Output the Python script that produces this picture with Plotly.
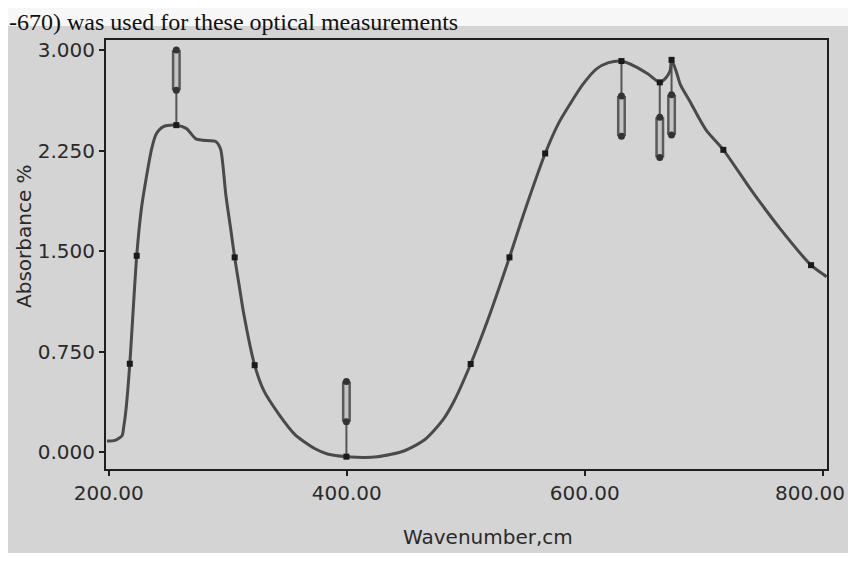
import plotly.graph_objects as go

# ---- data ----
wavenumber = [198.5, 205.3, 211.3, 212.4, 214.6, 217.7, 223.5, 227.4, 231.8, 236.0,
              239.7, 245.9, 256.8, 265.1, 273.2, 279.1, 289.9, 293.9, 295.9, 298.4,
              302.4, 305.8, 309.9, 313.3, 322.6, 330.3, 343.0, 356.7, 373.0, 383.8,
              399.7, 425.7, 448.5, 465.7, 480.6, 490.4, 504.1, 518.0, 536.7, 549.0,
              566.7, 577.7, 587.5, 598.2, 609.6, 619.9, 630.8, 642.5, 653.2, 663.0,
              668.2, 671.7, 672.9, 676.7, 680.5, 688.5, 696.4, 702.6, 716.4, 740.3,
              764.4, 790.1, 803.2]
absorbance = [0.084, 0.089, 0.125, 0.176, 0.325, 0.660, 1.465, 1.814, 2.059, 2.260,
              2.370, 2.428, 2.439, 2.415, 2.337, 2.327, 2.317, 2.263, 2.143, 1.918,
              1.670, 1.453, 1.227, 1.040, 0.649, 0.459, 0.283, 0.130, 0.028, -0.013,
              -0.033, -0.034, 0.011, 0.095, 0.239, 0.386, 0.658, 0.975, 1.453, 1.786,
              2.228, 2.449, 2.595, 2.741, 2.857, 2.905, 2.917, 2.876, 2.820, 2.758,
              2.793, 2.844, 2.926, 2.843, 2.737, 2.614, 2.485, 2.394, 2.255, 1.949,
              1.664, 1.395, 1.309]

# small dots drawn on the trace
mark_x = [217.7, 223.5, 256.8, 305.8, 322.6, 399.7, 504.1, 536.7, 566.7,
          630.8, 663.0, 672.9, 716.4, 790.1]
mark_y = [0.660, 1.465, 2.439, 1.453, 0.649, -0.033, 0.658, 1.453, 2.228,
          2.917, 2.758, 2.926, 2.255, 1.395]

# peak / valley picks
pick_x = [256.8, 399.7, 630.8, 663.0, 672.9]
pick_y = [2.439, -0.033, 2.917, 2.758, 2.926]
pick_side = [1, 1, -1, -1, -1]   # label above (+1) or below (-1) the trace

x_ticks = [200, 400, 600, 800]
y_ticks = [0.0, 0.75, 1.5, 2.25, 3.0]

x_title = "Wavenumber,cm"
y_title = "Absorbance %"
page_text = "-670) was used for these optical measurements"

# ---- figure ----
CURVE = "#4a4a4a"
FONT = "DejaVu Sans"
BG = "#d4d4d4"
TXT = "#2a2a2a"

fig = go.Figure()

# pick labels (drawn first so the curve is on top)
for px, py, s in zip(pick_x, pick_y, pick_side):
    stem_end = py + s * 0.25
    g0 = py + s * 0.26
    g1 = py + s * 0.56
    fig.add_trace(go.Scatter(x=[px, px], y=[py, stem_end], mode="lines",
                             line=dict(color="#555555", width=2),
                             hoverinfo="skip", showlegend=False))
    fig.add_trace(go.Scatter(x=[px, px], y=[g0, g1], mode="lines",
                             line=dict(color="#5a5a5a", width=9),
                             hoverinfo="skip", showlegend=False))
    fig.add_trace(go.Scatter(x=[px, px], y=[g0, g1], mode="lines",
                             line=dict(color="#c4c4c4", width=4),
                             hoverinfo="skip", showlegend=False))
    fig.add_trace(go.Scatter(x=[px, px], y=[g0, g1], mode="markers",
                             marker=dict(color="#333333", size=7, symbol="circle"),
                             hoverinfo="skip", showlegend=False))

fig.add_trace(go.Scatter(x=wavenumber, y=absorbance, mode="lines",
                         line=dict(color=CURVE, width=3, shape="spline", smoothing=0.7),
                         showlegend=False))
fig.add_trace(go.Scatter(x=mark_x, y=mark_y, mode="markers",
                         marker=dict(color="#1a1a1a", size=6, symbol="square"),
                         showlegend=False))

# the page body adds an 8px margin on every side; keep the figure inside the window
fig.update_layout(
    width=840, height=545,
    margin=dict(l=98, r=21, t=32, b=84),
    paper_bgcolor=BG, plot_bgcolor=BG,
    font=dict(family=FONT, color=TXT, size=20),
    showlegend=False,
)

# the last x label sits at the page edge; it is drawn as an annotation
x_labels = [f"{v:.2f}" for v in x_ticks]
axis_labels = x_labels[:-1] + [""]

fig.update_xaxes(range=[197.7, 803.5], tickvals=x_ticks, ticktext=axis_labels,
                 automargin=False,
                 showgrid=False, zeroline=False,
                 showline=True, linecolor="#1e1e1e", linewidth=2, mirror=True,
                 ticks="outside", ticklen=5, tickcolor="#1e1e1e", tickwidth=2,
                 tickfont=dict(family=FONT, size=20, color=TXT))
fig.update_yaxes(range=[-0.125, 3.074], tickvals=y_ticks,
                 ticktext=[f"{v:.3f}" for v in y_ticks], automargin=False,
                 showgrid=False, zeroline=False,
                 showline=True, linecolor="#1e1e1e", linewidth=2, mirror=True,
                 ticks="outside", ticklen=5, tickcolor="#1e1e1e", tickwidth=2,
                 tickfont=dict(family=FONT, size=20, color=TXT))

# paper coords from window pixels
def px_x(x):
    return (x - 106) / 721

def px_y(y):
    return (469 - y) / 429

fig.add_annotation(text=x_labels[-1], xref="paper", yref="paper",
                   x=px_x(847), y=px_y(479),
                   xanchor="right", yanchor="top", showarrow=False,
                   font=dict(family=FONT, size=20, color=TXT))
fig.add_annotation(text=x_title, xref="paper", yref="paper",
                   x=px_x(488), y=px_y(537),
                   xanchor="center", yanchor="middle", showarrow=False,
                   font=dict(family=FONT, size=20, color=TXT))
fig.add_annotation(text=y_title, xref="paper", yref="paper",
                   x=px_x(24), y=px_y(236), textangle=-90,
                   xanchor="center", yanchor="middle", showarrow=False,
                   font=dict(family=FONT, size=20, color=TXT))

# white page band with the body text at the top
fig.add_shape(type="rect", xref="paper", yref="paper",
              x0=-0.2, x1=1.1, y0=px_y(26), y1=px_y(-10),
              fillcolor="#f7f7f7", line=dict(width=0), layer="below")
fig.add_annotation(text=page_text, xref="paper", yref="paper",
                   x=px_x(7), y=px_y(7),
                   xanchor="left", yanchor="top", showarrow=False,
                   font=dict(family="Liberation Serif", size=24, color="#111111"))

fig.write_html("out.html")
